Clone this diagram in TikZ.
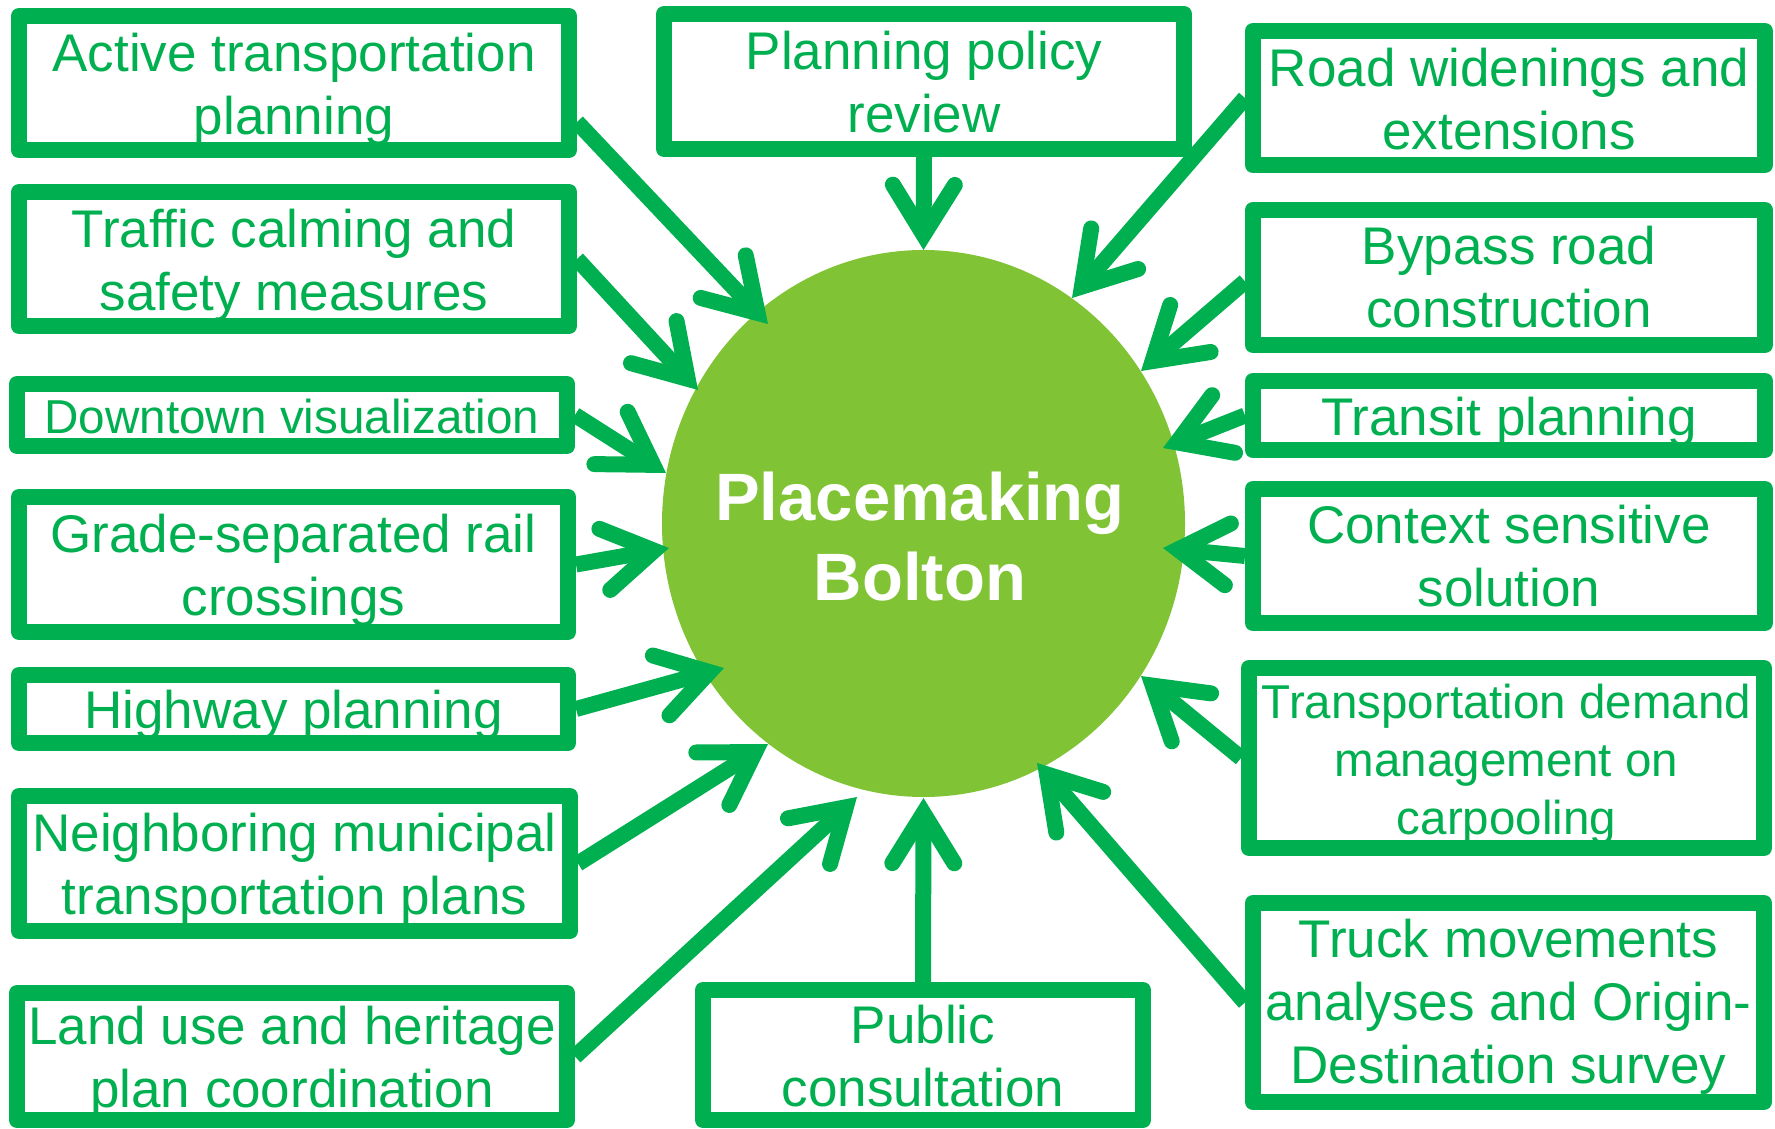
\documentclass[tikz,border=0pt]{standalone}
\usepackage{fontspec}
\setmainfont{Liberation Sans}
\usetikzlibrary{arrows.meta,shapes.geometric}
\definecolor{boxgreen}{RGB}{0,176,80}
\definecolor{hubgreen}{RGB}{128,195,52}
\begin{document}
\begin{tikzpicture}[x=1pt,y=-1pt,
  box/.style={draw=boxgreen, line width=16pt, line join=round, fill=white, rectangle, inner sep=0pt},
  lbl/.style={align=center, inner sep=0pt, text=boxgreen, font=\fontsize{53}{63}\selectfont},
  hub/.style={ellipse, fill=hubgreen, inner sep=0pt, minimum width=523pt, minimum height=547pt},
  hubtxt/.style={text=white, font=\fontsize{67}{80}\selectfont\bfseries, align=center, inner sep=0pt},
  link/.style={draw=boxgreen, line width=16pt,
    -{Straight Barb[length=50pt,width=62pt,line cap=round,line join=miter]}},
]
\useasboundingbox (0,0) rectangle (1775,1129);
\node[hub] (c) at (923.5,523.5) {};
\node[hubtxt] (ct) at (920,537) {Placemaking\\Bolton};
% left column
\node[box, minimum width=550pt, minimum height=134pt] (act) at (294,83) {};
\node[box, minimum width=550pt, minimum height=134pt] (traf) at (294,259) {};
\node[box, minimum width=550pt, minimum height=62pt] (down) at (292,415) {};
\node[box, minimum width=549pt, minimum height=135pt] (grade) at (293.5,564.5) {};
\node[box, minimum width=549pt, minimum height=68pt] (high) at (293.5,709) {};
\node[box, minimum width=551pt, minimum height=135pt] (neigh) at (294.5,863.5) {};
\node[box, minimum width=550pt, minimum height=127pt] (land) at (292,1056.5) {};
% centre column
\node[box, minimum width=520pt, minimum height=135pt] (plan) at (924,81.5) {};
\node[box, minimum width=440pt, minimum height=130pt] (pub) at (923,1055) {};
% right column
\node[box, minimum width=512pt, minimum height=134pt] (road) at (1509,98) {};
\node[box, minimum width=512pt, minimum height=135pt] (bypass) at (1509,277.5) {};
\node[box, minimum width=512pt, minimum height=69pt] (transit) at (1509,415.5) {};
\node[box, minimum width=512pt, minimum height=134pt] (context) at (1509,556) {};
\node[box, minimum width=515pt, minimum height=180pt] (tdm) at (1506.5,758) {};
\node[box, minimum width=511pt, minimum height=199pt] (truck) at (1508.5,1002.5) {};
% labels
\node[lbl] (actT) at ([yshift=-6pt]act.center) {Active transportation\\planning};
\node[lbl] (trafT) at ([yshift=-6pt]traf.center) {Traffic calming and\\safety measures};
\node[lbl, font=\fontsize{47.6}{57}\selectfont] (downT) at ([yshift=-1pt]down.center) {Downtown visualization};
\node[lbl] (gradeT) at ([yshift=-6pt]grade.center) {Grade-separated rail\\crossings};
\node[lbl] (highT) at ([yshift=-6pt]high.center) {Highway planning};
\node[lbl] (neighT) at ([yshift=-6pt]neigh.center) {Neighboring municipal\\transportation plans};
\node[lbl] (landT) at ([yshift=-6pt]land.center) {Land use and heritage\\plan coordination};
\node[lbl] (planT) at ([yshift=-1pt]plan.center) {Planning policy\\review};
\node[lbl] (pubT) at ([yshift=-1pt]pub.center) {Public\\consultation};
\node[lbl] (roadT) at ([yshift=-1pt]road.center) {Road widenings and\\extensions};
\node[lbl] (bypassT) at (bypass.center) {Bypass road\\construction};
\node[lbl] (transitT) at ([yshift=-6pt]transit.center) {Transit planning};
\node[lbl] (contextT) at (context.center) {Context sensitive\\solution};
\node[lbl, font=\fontsize{47.5}{58}\selectfont] (tdmT) at ([yshift=-6pt]tdm.center) {Transportation demand\\management on\\carpooling};
\node[lbl] (truckT) at ([yshift=-4pt]truck.center) {Truck movements\\analyses and Origin-\\Destination survey};
% connectors
\draw[link] ([yshift=-39pt]act.east) -- ([shift={(-155.5,-199.5)}]c.center);
\draw[link] (traf.east) -- ([shift={(-225.5,-133.5)}]c.center);
\draw[link] (down.east) -- ([shift={(-257.5,-50.5)}]c.center);
\draw[link] (grade.east) -- ([shift={(-254.5,24.5)}]c.center);
\draw[link] (high.east) -- ([shift={(-199.5,144.5)}]c.center);
\draw[link] (neigh.east) -- ([shift={(-155.5,220.5)}]c.center);
\draw[link] (land.east) -- ([shift={(-66.5,273.5)}]c.center);
\draw[link] (plan.south) -- ([shift={(0,-273.5)}]c.center);
\draw[link] (pub.north) -- ([shift={(0,274.5)}]c.center);
\draw[link] (road.west) -- ([shift={(148.5,-225.5)}]c.center);
\draw[link] ([yshift=-4pt]bypass.west) -- ([shift={(217.5,-152.5)}]c.center);
\draw[link] (transit.west) -- ([shift={(239.5,-75.5)}]c.center);
\draw[link] (context.west) -- ([shift={(239.5,24.5)}]c.center);
\draw[link] (tdm.west) -- ([shift={(217.5,152.5)}]c.center);
\draw[link] (truck.west) -- ([shift={(113.5,239.5)}]c.center);
\end{tikzpicture}
\end{document}
